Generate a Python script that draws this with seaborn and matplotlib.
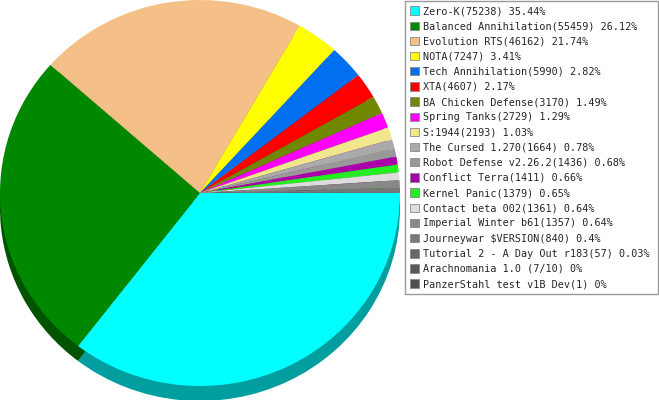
import matplotlib
matplotlib.use("Agg")
import matplotlib.pyplot as plt
import seaborn as sns
from matplotlib.patches import Patch
import matplotlib.colors as mcolors

names = ["Zero-K", "Balanced Annihilation", "Evolution RTS", "NOTA", "Tech Annihilation",
         "XTA", "BA Chicken Defense", "Spring Tanks", "S:1944", "The Cursed 1.270",
         "Robot Defense v2.26.2", "Conflict Terra", "Kernel Panic", "Contact beta 002",
         "Imperial Winter b61", "Journeywar $VERSION", "Tutorial 2 - A Day Out r183",
         "Arachnomania 1.0 (7/10)", "PanzerStahl test v1B Dev(1)"]
counts = [75238, 55459, 46162, 7247, 5990, 4607, 3170, 2729, 2193, 1664,
          1436, 1411, 1379, 1361, 1357, 840, 57, 2, 1]
pct_labels = ["35.44", "26.12", "21.74", "3.41", "2.82", "2.17", "1.49", "1.29", "1.03", "0.78",
              "0.68", "0.66", "0.65", "0.64", "0.64", "0.4", "0.03", "0", "0"]
colors = ["#00ffff", "#008800", "#f4c088", "#ffff00", "#0070f0", "#ff0000", "#708800",
          "#ff00ff", "#f0e68c", "#aaaaaa", "#999999", "#aa00aa", "#22ee22", "#dddddd",
          "#888888", "#777777", "#666666", "#5a5a5a", "#505050"]

sns.set_theme(style="white")
plt.rcParams['font.family'] = ['DejaVu Sans Mono', 'DejaVu Sans']

W, H = 659, 400
fig = plt.figure(figsize=(W / 100, H / 100), dpi=100)
fig.patch.set_facecolor("white")
ax = fig.add_axes([0, 0, 400 / W, 1])
ax.set_axis_off()

shadow = [tuple(c * 0.62 for c in mcolors.to_rgb(col)) for col in colors]
depth = 15 / 193
ax.pie(counts, colors=shadow, startangle=0, counterclock=False, center=(0, -depth),
       radius=1, wedgeprops=dict(linewidth=0), normalize=True)
ax.pie(counts, colors=colors, startangle=0, counterclock=False, center=(0, 0),
       radius=1, wedgeprops=dict(linewidth=0), normalize=True)
ax.set_aspect("auto")
ax.set_xlim(-1.0, 1.0)
ax.set_ylim(-207 / 193, 1.0)

labels = []
for n, c, p in zip(names, counts, pct_labels):
    if n.endswith(")"):
        labels.append(f"{n} {p}%")
    else:
        labels.append(f"{n}({c}) {p}%")
handles = [Patch(facecolor=col, edgecolor="#888888", linewidth=0.6) for col in colors]

leg = fig.legend(handles, labels, loc="upper left", mode="expand",
                 bbox_to_anchor=(405 / W, 0, 253 / W, 1 - 1 / H), bbox_transform=fig.transFigure,
                 prop=dict(family="DejaVu Sans Mono", size=7.3),
                 frameon=True, fancybox=False, framealpha=1, edgecolor="#999999",
                 handlelength=0.9, handleheight=0.9, handletextpad=0.35,
                 labelspacing=0.51, borderpad=0.5, borderaxespad=0)
leg.get_frame().set_linewidth(1.0)

fig.savefig("out.png", dpi=100)
